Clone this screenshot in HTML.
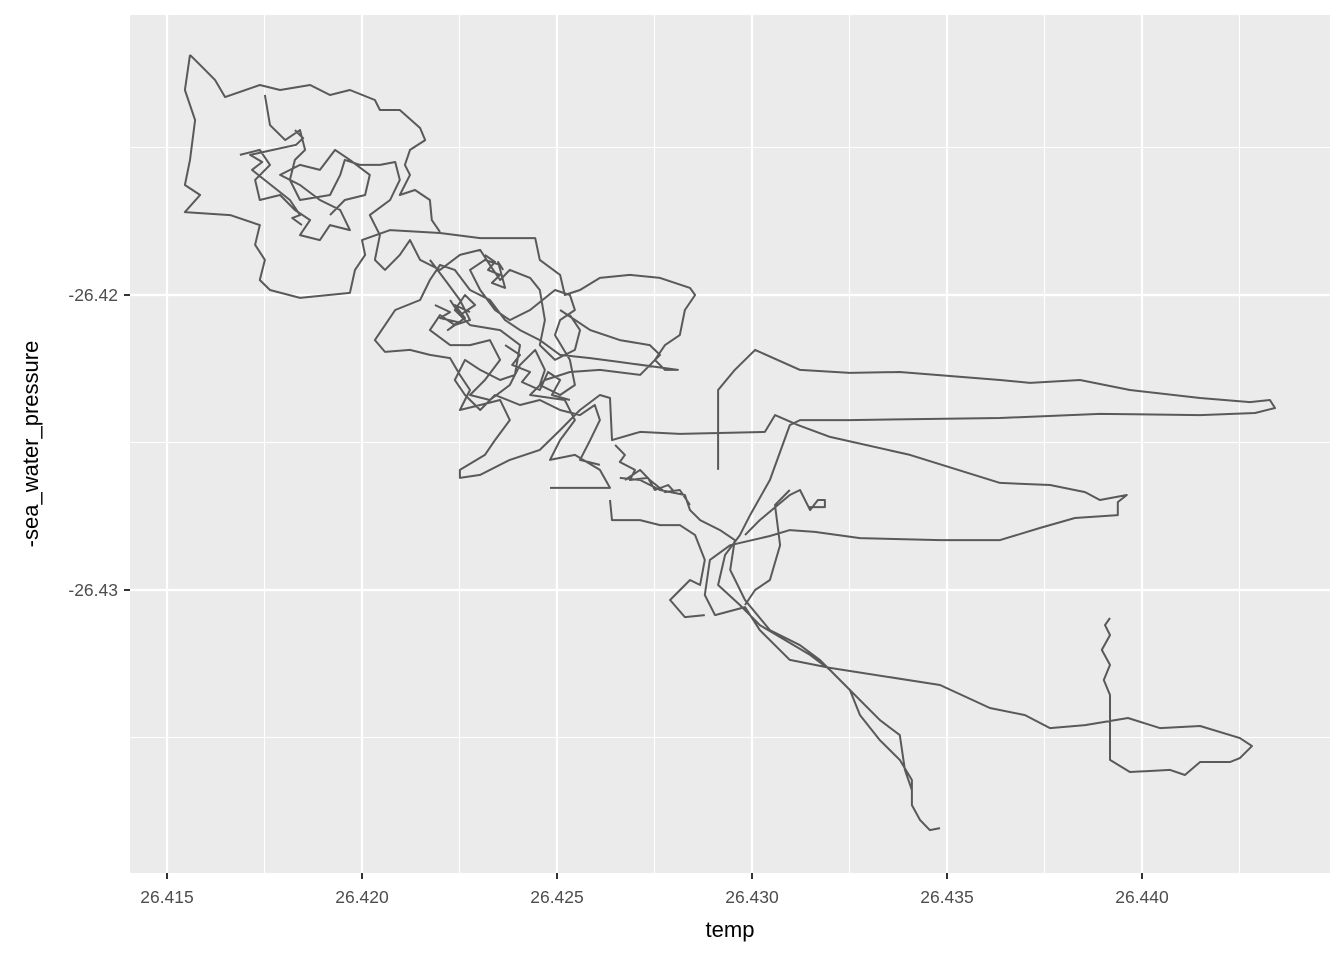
<!DOCTYPE html>
<html><head><meta charset="utf-8"><style>
html,body{margin:0;padding:0;background:#fff;}
svg{display:block;font-family:"Liberation Sans",Arial,sans-serif;}
</style></head><body>
<svg id="chart" width="1344" height="960" viewBox="0 0 1344 960">
<rect x="130" y="15" width="1200" height="858" fill="#ebebeb"/>
<g id="grid"></g>
<g id="series"></g>
<g id="axes"></g>
<text x="730" y="937" font-size="22" text-anchor="middle" fill="#000">temp</text>
<text transform="translate(38,444) rotate(-90)" font-size="22" text-anchor="middle" fill="#000">-sea_water_pressure</text>
</svg>
<script>
const xTicks = [26.415, 26.420, 26.425, 26.430, 26.435, 26.440];
const xTickLabels = ["26.415", "26.420", "26.425", "26.430", "26.435", "26.440"];
const yTicks = [-26.42, -26.43];
const yTickLabels = ["-26.42", "-26.43"];
const xMinor = [26.4175, 26.4225, 26.4275, 26.4325, 26.4375, 26.4425];
const yMinor = [-26.415, -26.425, -26.435];
const temp = [
26.41559,26.41546,26.41572,26.41559,26.41546,26.41585,26.41546,26.41662,26.41738,26.41726,26.41751,26.41738,26.41764,26.41841,26.41969,26.41982,26.42008,26.42000,26.42072,26.42200,26.42303,26.42444,26.42456,26.42508,26.42520,26.42559,26.42610,26.42687,26.42764,26.42841,26.42854,26.42828,26.42815,26.42777,26.42751,26.42777,26.42810,26.42661,26.42585,26.42508,26.42456,26.42405,26.42367,26.42328,26.42277,26.42238,26.42200,26.42174,26.42149,26.42085,26.42033,26.42059,26.42123,26.42174,26.42226,26.42251,26.42277,26.42251,26.42303,26.42354,26.42379,26.42341,26.42315,26.42251,26.42251,26.42303,26.42379,26.42456,26.42508,26.42559,26.42610,26.42636,26.42641,26.42713,26.42815,26.43033,26.43059,26.43118,26.43200,26.43405,26.43636,26.43764,26.43854,26.43892,26.43961,26.43938,26.43938,26.43828,26.43738,26.43636,26.43482,26.43277,26.43161,26.43097,26.43046,26.42944,26.42892,26.42879,26.42905,26.42982,26.43020,26.43097,26.43200,26.43482,26.43610,26.43700,26.43764,26.43854,26.43964,26.44046,26.44149,26.44251,26.44282,26.44251,26.44226,26.44149,26.44110,26.44072,26.43969,26.43918,26.43918,26.43902,26.43918,26.43897,26.43918,26.43905,26.43918,
null,
26.42508,26.42585,26.42661,26.42738,26.42764,26.42713,26.42610,26.42533,26.42469,26.42431,26.42520,26.42546,26.42508,26.42482,26.42546,26.42610,26.42636,26.42482,
null,
26.42661,26.42713,26.42764,26.42828,26.42841,26.42867,26.42918,26.42956,26.42944,26.42982,26.43046,26.43123,26.43174,26.43251,26.43328,26.43379,26.43392,26.43410,
null,
26.42636,26.42641,26.42713,26.42764,26.42815,26.42854,26.42879,26.42867,26.42841,26.42790,26.42828,26.42879,
null,
26.42913,26.42913,26.42956,26.43008,26.43123,26.43251,26.43379,26.43636,26.43713,26.43841,26.43969,26.44149,26.44277,26.44328,26.44341,26.44290,26.44149,26.43892,26.43636,26.43251,26.43123,26.43097,26.43046,26.42995,26.42969,26.42931,26.42913,26.42969,26.43020,26.43149,26.43200,26.43251,26.43277,26.43328,26.43379,26.43410,26.43410,26.43431,26.43456,26.43482,
null,
26.42982,26.43020,26.43097,26.43123,26.43149,26.43169,26.43187,26.43187,26.43144,
null,
26.43097,26.43059,26.43072,26.43046,26.43008,26.42982,
null,
26.41559,26.41585,26.41623,26.41649,26.41738,26.41790,26.41867,26.41918,26.41969,26.42033,26.42046,26.42097,26.42149,26.42162,26.42123,26.42110,26.42123,26.42097,26.42136,26.42174,26.42179,26.42200,
null,
26.41751,26.41764,26.41803,26.41841,26.41854,26.41828,26.41815,26.41841,26.41918,26.41944,26.41956,26.41995,26.42046,26.42085,26.42097,26.42072,26.42020,26.42046,26.42033,26.42059,26.42097,26.42123,26.42149,26.42200,26.42251,26.42303,26.42328,26.42354,26.42379,26.42431,26.42456,26.42469,26.42456,26.42495,26.42546,26.42559,26.42533,
null,
26.41687,26.41738,26.41764,26.41726,26.41738,26.41790,26.41828,26.41867,26.41841,26.41892,26.41918,26.41969,26.41944,26.41892,26.41841,26.41790,26.41841,26.41892,26.41931,26.41969,26.42020,26.42008,26.41956,26.41918,
null,
26.42174,26.42213,26.42251,26.42277,26.42238,26.42200,26.42174,26.42226,26.42277,26.42328,26.42354,26.42315,26.42277,26.42328,26.42379,26.42405,26.42444,26.42469,26.42456,26.42508,26.42546,26.42533,26.42495,26.42508,26.42546,26.42533,26.42495,26.42431,26.42379,26.42341,26.42303,26.42277,26.42315,26.42354,
null,
26.42226,26.42251,26.42290,26.42264,26.42238,26.42277,26.42354,26.42405,26.42392,26.42354,26.42303,26.42264,26.42238,26.42264,26.42303,26.42341,26.42405,26.42456,26.42508,26.42559,26.42597,26.42610,26.42585,26.42559,26.42610,
null,
26.42674,26.42713,26.42738,26.42777,26.42815,26.42841,
null,
26.42315,26.42341,26.42323,26.42354,26.42333,26.42367,26.42349,26.42362,
null,
26.42187,26.42226,26.42200,26.42246,26.42220,26.42264,26.42238,26.42277,
null,
26.42367,26.42405,26.42385,26.42431,26.42410,26.42456,26.42477,26.42508,26.42487,26.42533,
null,
26.42649,26.42674,26.42661,26.42700,26.42687,26.42733,26.42751,26.42785,26.42803,
null,
26.41828,26.41849,26.41831,26.41713,26.41744,26.41718,26.41815,26.41841,26.41821,26.41846
];
const pressure = [
-26.41186,-26.41305,-26.41407,-26.41542,-26.41627,-26.41661,-26.41719,-26.41729,-26.41763,-26.41830,-26.41881,-26.41949,-26.41983,-26.42010,-26.41993,-26.41915,-26.41864,-26.41814,-26.41780,-26.41790,-26.41807,-26.41807,-26.41881,-26.41932,-26.42000,-26.41983,-26.41942,-26.41932,-26.41942,-26.41976,-26.42000,-26.42051,-26.42136,-26.42170,-26.42220,-26.42254,-26.42254,-26.42227,-26.42214,-26.42203,-26.42153,-26.42119,-26.42085,-26.42017,-26.41983,-26.41915,-26.41898,-26.41949,-26.42017,-26.42051,-26.42153,-26.42193,-26.42186,-26.42203,-26.42214,-26.42271,-26.42322,-26.42390,-26.42373,-26.42356,-26.42424,-26.42492,-26.42542,-26.42593,-26.42620,-26.42610,-26.42559,-26.42525,-26.42458,-26.42390,-26.42339,-26.42349,-26.42492,-26.42464,-26.42471,-26.42464,-26.42407,-26.42441,-26.42481,-26.42542,-26.42637,-26.42644,-26.42668,-26.42695,-26.42678,-26.42702,-26.42746,-26.42756,-26.42790,-26.42831,-26.42831,-26.42824,-26.42803,-26.42797,-26.42817,-26.42848,-26.42898,-26.43017,-26.43085,-26.43058,-26.43136,-26.43237,-26.43264,-26.43322,-26.43400,-26.43424,-26.43468,-26.43458,-26.43434,-26.43468,-26.43461,-26.43502,-26.43529,-26.43570,-26.43583,-26.43583,-26.43627,-26.43610,-26.43617,-26.43576,-26.43356,-26.43305,-26.43254,-26.43203,-26.43153,-26.43119,-26.43095,
null,
-26.42051,-26.42119,-26.42153,-26.42170,-26.42203,-26.42271,-26.42254,-26.42261,-26.42288,-26.42339,-26.42356,-26.42424,-26.42492,-26.42559,-26.42542,-26.42593,-26.42654,-26.42654,
null,
-26.42620,-26.42627,-26.42661,-26.42678,-26.42729,-26.42763,-26.42797,-26.42831,-26.42932,-26.43034,-26.43136,-26.43187,-26.43237,-26.43339,-26.43441,-26.43492,-26.43610,-26.43678,
null,
-26.42695,-26.42763,-26.42763,-26.42780,-26.42780,-26.42814,-26.42898,-26.42983,-26.42966,-26.43034,-26.43092,-26.43085,
null,
-26.42593,-26.42322,-26.42254,-26.42186,-26.42254,-26.42264,-26.42261,-26.42288,-26.42298,-26.42288,-26.42322,-26.42349,-26.42363,-26.42356,-26.42383,-26.42400,-26.42407,-26.42403,-26.42417,-26.42424,-26.42424,-26.42441,-26.42627,-26.42746,-26.42814,-26.42881,-26.42983,-26.43051,-26.43119,-26.43220,-26.43271,-26.43339,-26.43424,-26.43509,-26.43576,-26.43644,-26.43729,-26.43780,-26.43814,-26.43807,
null,
-26.42814,-26.42763,-26.42678,-26.42661,-26.42729,-26.42695,-26.42695,-26.42719,-26.42719,
null,
-26.42661,-26.42712,-26.42848,-26.42966,-26.43000,-26.43051,
null,
-26.41186,-26.41220,-26.41271,-26.41329,-26.41288,-26.41305,-26.41288,-26.41322,-26.41305,-26.41339,-26.41373,-26.41373,-26.41434,-26.41475,-26.41508,-26.41559,-26.41593,-26.41661,-26.41644,-26.41678,-26.41746,-26.41786,
null,
-26.41322,-26.41424,-26.41475,-26.41441,-26.41508,-26.41542,-26.41610,-26.41678,-26.41661,-26.41593,-26.41542,-26.41559,-26.41559,-26.41549,-26.41610,-26.41678,-26.41729,-26.41797,-26.41881,-26.41915,-26.41864,-26.41814,-26.41881,-26.41915,-26.41864,-26.41847,-26.41898,-26.41949,-26.41915,-26.41942,-26.41983,-26.42085,-26.42170,-26.42220,-26.42186,-26.42119,-26.42068,
null,
-26.41525,-26.41508,-26.41559,-26.41610,-26.41678,-26.41661,-26.41712,-26.41746,-26.41797,-26.41814,-26.41763,-26.41780,-26.41712,-26.41678,-26.41627,-26.41593,-26.41559,-26.41576,-26.41508,-26.41542,-26.41593,-26.41661,-26.41678,-26.41729,
null,
-26.41881,-26.41949,-26.42017,-26.42085,-26.42102,-26.42068,-26.42119,-26.42170,-26.42170,-26.42153,-26.42220,-26.42288,-26.42339,-26.42356,-26.42305,-26.42237,-26.42186,-26.42254,-26.42305,-26.42339,-26.42305,-26.42220,-26.42136,-26.42085,-26.42051,-26.42000,-26.41983,-26.42051,-26.42085,-26.42051,-26.41983,-26.41915,-26.41881,-26.41898,
null,
-26.42017,-26.42068,-26.42034,-26.42000,-26.42051,-26.42102,-26.42119,-26.42170,-26.42271,-26.42288,-26.42254,-26.42220,-26.42288,-26.42339,-26.42390,-26.42339,-26.42373,-26.42356,-26.42390,-26.42407,-26.42373,-26.42424,-26.42492,-26.42559,-26.42576,
null,
-26.42627,-26.42593,-26.42627,-26.42668,-26.42661,-26.42712,
null,
-26.41864,-26.41888,-26.41915,-26.41932,-26.41959,-26.41976,-26.41888,-26.41915,
null,
-26.42034,-26.42058,-26.42078,-26.42092,-26.42119,-26.42078,-26.42034,-26.42058,
null,
-26.42170,-26.42203,-26.42237,-26.42261,-26.42295,-26.42322,-26.42261,-26.42288,-26.42339,-26.42356,
null,
-26.42508,-26.42542,-26.42566,-26.42593,-26.42627,-26.42620,-26.42661,-26.42644,-26.42671,
null,
-26.41441,-26.41468,-26.41491,-26.41525,-26.41549,-26.41576,-26.41678,-26.41729,-26.41739,-26.41763
];

const NS = "http://www.w3.org/2000/svg";
const P = {left:130, right:1330, top:15, bottom:873};
function xScale(v){ return 167 + (v - 26.415) * 39000; }
function yScale(v){ return 295 - (v + 26.42) * 29500; }
function mk(tag, attrs){ const e = document.createElementNS(NS, tag); for (const k in attrs) e.setAttribute(k, attrs[k]); return e; }

const grid = document.getElementById('grid');
xMinor.forEach(v => {
  const l = mk('line', {x1:xScale(v), x2:xScale(v), y1:P.top, y2:P.bottom, stroke:'#fff', 'stroke-width':1.1});
  
  
  grid.appendChild(l);
});
yMinor.forEach(v => {
  const l = mk('line', {x1:P.left, x2:P.right, y1:yScale(v), y2:yScale(v), stroke:'#fff', 'stroke-width':1.1});
  
  
  grid.appendChild(l);
});
xTicks.forEach(v => {
  const l = mk('line', {x1:xScale(v), x2:xScale(v), y1:P.top, y2:P.bottom, stroke:'#fff', 'stroke-width':2.2});
  
  
  grid.appendChild(l);
});
yTicks.forEach(v => {
  const l = mk('line', {x1:P.left, x2:P.right, y1:yScale(v), y2:yScale(v), stroke:'#fff', 'stroke-width':2.2});
  
  
  grid.appendChild(l);
});

let d = ''; let pen = false;
for (let i = 0; i < temp.length; i++) {
  if (temp[i] === null || pressure[i] === null) { pen = false; continue; }
  d += (pen ? 'L' : 'M') + xScale(temp[i]).toFixed(1) + ',' + yScale(pressure[i]).toFixed(1);
  pen = true;
}
const path = mk('path', {d:d, fill:'none', stroke:'#595959', 'stroke-width':2, 'stroke-linejoin':'round', 'stroke-linecap':'butt'});


document.getElementById('series').appendChild(path);

const axes = document.getElementById('axes');
xTicks.forEach((v, i) => {
  const t = mk('line', {x1:xScale(v), x2:xScale(v), y1:P.bottom, y2:P.bottom + 6, stroke:'#333', 'stroke-width':2});
  
  
  axes.appendChild(t);
  const tx = mk('text', {x:xScale(v), y:903, 'font-size':17.5, 'text-anchor':'middle', fill:'#4d4d4d'});
  tx.textContent = xTickLabels[i];
  
  
  axes.appendChild(tx);
});
yTicks.forEach((v, i) => {
  const t = mk('line', {x1:P.left - 6, x2:P.left, y1:yScale(v), y2:yScale(v), stroke:'#333', 'stroke-width':2});
  
  
  axes.appendChild(t);
  const tx = mk('text', {x:118, y:yScale(v) + 6, 'font-size':17.5, 'text-anchor':'end', fill:'#4d4d4d'});
  tx.textContent = yTickLabels[i];
  
  
  axes.appendChild(tx);
});
</script>
</body></html>
